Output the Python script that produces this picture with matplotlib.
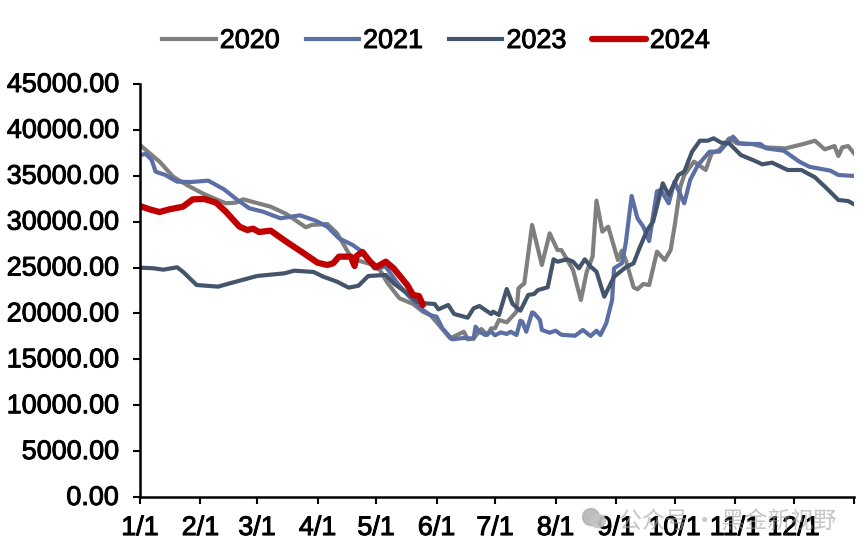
"""Spread by month: 2020, 2021, 2023, 2024, on a day-of-year axis."""

import matplotlib

matplotlib.use("Agg")
import matplotlib.patheffects as pe
import matplotlib.pyplot as plt
from matplotlib.patches import Ellipse
from matplotlib.transforms import ScaledTranslation

plt.rcParams["font.family"] = ["Liberation Sans", "DejaVu Sans"]

# day of year (0 = 1/1) and value, one pair of lists per year
days_2020 = [0, 5, 10, 17, 24, 32, 39, 44, 49, 53, 58, 67, 75, 82, 85, 88, 96, 101, 104, 108, 111, 118, 123, 127,
             133, 140, 145, 149, 159, 166, 168, 171, 175, 178, 180, 182, 184, 188, 193, 194, 197, 201, 206, 210,
             214, 216, 222, 226, 229, 232, 234, 237, 240, 245, 247, 249, 253, 255, 258, 261, 265, 269, 272, 274,
             277, 279, 284, 290, 293, 297, 302, 306, 314, 320, 331, 340, 346, 351, 356, 358, 360, 363, 366]
vals_2020 = [38350, 37450, 36540, 34900, 34000, 33090, 32440, 32000, 32070, 32440, 32140, 31630, 30840, 29820,
             29390, 29640, 29750, 28730, 27640, 26190, 25820, 25390, 24730, 23280, 21650, 21030, 20190, 19800,
             17290, 18010, 17180, 17290, 18300, 17650, 18380, 18380, 19290, 19030, 20190, 22740, 23280, 29640,
             25280, 28730, 26910, 26910, 24730, 21460, 24550, 26190, 32290, 28910, 29450, 25820, 26840, 25820,
             22850, 22630, 23210, 23100, 26730, 25820, 26910, 29450, 33810, 35085, 36540, 35630, 37450, 37810,
             39080, 38540, 38460, 38100, 37990, 38460, 38820, 37880, 38240, 37155, 38100, 38240, 37450]

days_2021 = [0, 3, 6, 8, 13, 19, 26, 35, 43, 50, 56, 63, 72, 82, 90, 96, 102, 109, 115, 120, 126, 132, 138, 145,
             149, 152, 155, 160, 166, 171, 172, 174, 177, 180, 182, 185, 188, 190, 193, 195, 196, 198, 201, 202,
             205, 206, 210, 213, 216, 223, 227, 231, 234, 236, 239, 242, 243, 247, 249, 252, 255, 258, 261, 265,
             267, 271, 274, 279, 282, 286, 292, 297, 300, 304, 307, 311, 318, 321, 330, 338, 343, 354, 358, 366]
vals_2021 = [37260, 37375, 36720, 35450, 35085, 34360, 34320, 34470, 33530, 32360, 31460, 31090, 30370, 30690,
             30110, 29450, 28190, 27460, 26550, 24920, 25100, 23280, 21830, 20380, 19800, 19650, 18380, 17180,
             17325, 17250, 18560, 18010, 17650, 18010, 17620, 17940, 17760, 18010, 17650, 19210, 19100, 18010,
             20120, 20020, 19290, 18200, 17900, 18120, 17680, 17570, 18200, 17540, 18120, 17650, 18930, 21460,
             24920, 25460, 27640, 32800, 30370, 29450, 27890, 33300, 33450, 32000, 34360, 32000, 34540, 36170,
             37630, 37630, 38350, 39260, 38540, 38460, 38460, 37990, 37730, 36540, 35990, 35550, 35085, 34980]

days_2023 = [0, 7, 12, 19, 22, 29, 40, 46, 60, 74, 79, 89, 94, 101, 107, 112, 117, 126, 130, 137, 142, 146, 151,
             153, 158, 161, 168, 171, 174, 180, 181, 184, 188, 191, 195, 199, 202, 204, 209, 212, 214, 219, 222,
             225, 228, 231, 234, 238, 243, 249, 253, 256, 260, 263, 268, 271, 276, 279, 283, 287, 291, 294, 298,
             302, 308, 315, 319, 324, 332, 339, 346, 352, 358, 363, 366]
vals_2023 = [24990, 24920, 24770, 25030, 24550, 23100, 22920, 23280, 24080, 24370, 24660, 24520, 24000, 23460,
             22810, 23020, 24080, 24190, 23280, 22190, 21280, 21110, 21030, 20450, 20920, 19940, 19540, 20560,
             20810, 19940, 20190, 19830, 22660, 21030, 20300, 22010, 22120, 22550, 22850, 25900, 25640, 25900,
             25640, 24920, 25900, 25100, 24550, 21830, 24000, 25030, 25460, 27100, 29090, 30000, 34180, 32900,
             35085, 35450, 37630, 38820, 38820, 39080, 38600, 38540, 37260, 36640, 36250, 36430, 35630, 35630,
             34830, 33630, 32360, 32250, 31890]

days_2024 = [0, 5, 10, 15, 22, 27, 33, 39, 44, 51, 55, 58, 61, 67, 75, 84, 91, 96, 99, 102, 108, 110, 111, 114,
             118, 121, 126, 130, 137, 140, 143, 145]
vals_2024 = [31700, 31340, 31050, 31340, 31630, 32430, 32470, 32070, 31090, 29455, 29090, 29240, 28870, 29020,
             27820, 26550, 25530, 25280, 25460, 26190, 26190, 25170, 26260, 26700, 25640, 25030, 25640, 24920,
             23100, 22010, 21900, 20920]

month_days = [0, 31, 60, 91, 121, 152, 182, 213, 244, 274, 305, 335, 366]
month_labels = ["1/1", "2/1", "3/1", "4/1", "5/1", "6/1", "7/1", "8/1", "9/1", "10/1", "11/1", "12/1", ""]
y_ticks = [0, 5000, 10000, 15000, 20000, 25000, 30000, 35000, 40000, 45000]

W, H = 860, 555
FS = 19.4
heavy = [pe.withStroke(linewidth=0.7, foreground="black")]

fig = plt.figure(figsize=(W / 100, H / 100), dpi=100)
ax = fig.add_axes([140 / W, 1 - 497 / H, 714 / W, 413 / H])

ax.plot(days_2020, vals_2020, color="#7F7F7F", lw=3, label="2020", solid_joinstyle="round")
ax.plot(days_2021, vals_2021, color="#5B6FA5", lw=3, label="2021", solid_joinstyle="round")
ax.plot(days_2023, vals_2023, color="#44546A", lw=3, label="2023", solid_joinstyle="round")
ax.plot(days_2024, vals_2024, color="#C00000", lw=4.5, label="2024", solid_joinstyle="round",
        solid_capstyle="round")

ax.set_xlim(0, 366)
ax.set_ylim(0, 45000)
ax.set_xticks(month_days)
ax.set_xticklabels(month_labels, fontsize=FS, path_effects=heavy)
ax.set_yticks(y_ticks)
ax.set_yticklabels([f"{v:.2f}" for v in y_ticks], fontsize=FS, path_effects=heavy)
ax.tick_params(axis="x", direction="out", length=5, width=1.5, pad=8)
ax.tick_params(axis="y", direction="out", length=5, width=1.5, pad=10.5)
up = ScaledTranslation(0, 2 / 100, fig.dpi_scale_trans)
for lab in ax.get_yticklabels():
    lab.set_transform(lab.get_transform() + up)
for side in ["top", "right"]:
    ax.spines[side].set_visible(False)
for side in ["left", "bottom"]:
    ax.spines[side].set_linewidth(1.8)

leg = ax.legend(loc="center", bbox_to_anchor=(436 / W, 1 - 41 / H), bbox_transform=fig.transFigure, ncol=4,
                frameon=False, fontsize=FS, handlelength=1.98, handletextpad=0.15, columnspacing=0.97,
                borderpad=0, labelspacing=0)
for t in leg.get_texts():
    t.set_path_effects(heavy)

# watermark over the month labels
fig.add_artist(Ellipse((591 / W, 1 - 517 / H), 17 / W, 17 / H, color="#b5b5b5", alpha=0.9, transform=fig.transFigure))
fig.add_artist(Ellipse((598 / W, 1 - 521 / H), 15 / W, 13 / H, color="#c4c4c4", alpha=0.9, transform=fig.transFigure))
fig.text(619 / W, 1 - 521 / H, "公众号 · 黑金新视野", fontsize=16.6, color="#a0a0a0", alpha=0.6, va="center",
         family=["Noto Sans CJK SC", "DejaVu Sans"])

fig.savefig("out.png", dpi=100)
